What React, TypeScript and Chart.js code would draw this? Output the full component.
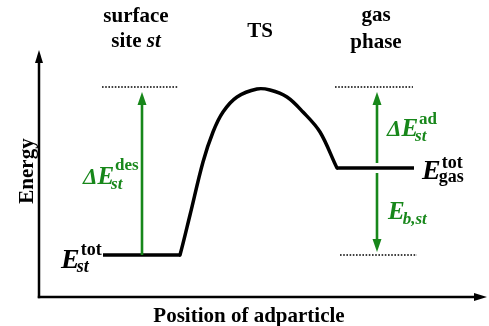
import React, { useEffect, useRef } from "react";
import { Chart, registerables } from "chart.js";

Chart.register(...registerables);

// Energy profile (reaction coordinate, energy in arbitrary units)
const curveX = [64, 140, 141, 151, 164, 174, 184, 198, 218, 231, 248, 264, 281, 298, 299, 375];
const curveY = [42, 42, 42, 82, 135, 165, 185, 200, 208, 207, 200, 185, 165, 129, 129, 129];

// reference levels (dotted)
const levelTopY = 210;
const levelBottomY = 42;
const dottedSegments = [
  { x0: 63, x1: 139, y: levelTopY },
  { x0: 296, x1: 374, y: levelTopY },
  { x0: 301, x1: 378, y: levelBottomY },
];

// energy arrows
const energyArrows = [
  { x: 103, from: 42, to: 205 },
  { x: 338, from: 134, to: 205 },
  { x: 338, from: 124, to: 45 },
];

const axisMaxX = 448;
const axisMaxY = 247;

const GREEN = "#17871a";
const SERIF = '"Liberation Serif", "DejaVu Serif", serif';

function drawArrow(ctx: CanvasRenderingContext2D, x0: number, y0: number, x1: number, y1: number, color: string, lw: number, headLen: number, headW: number) {
  const ang = Math.atan2(y1 - y0, x1 - x0);
  const bx = x1 - headLen * Math.cos(ang);
  const by = y1 - headLen * Math.sin(ang);
  ctx.save();
  ctx.strokeStyle = color;
  ctx.fillStyle = color;
  ctx.lineWidth = lw;
  ctx.beginPath();
  ctx.moveTo(x0, y0);
  ctx.lineTo(bx + Math.cos(ang) * 2, by + Math.sin(ang) * 2);
  ctx.stroke();
  ctx.beginPath();
  ctx.moveTo(x1, y1);
  ctx.lineTo(bx + (headW / 2) * Math.sin(ang), by - (headW / 2) * Math.cos(ang));
  ctx.lineTo(bx - (headW / 2) * Math.sin(ang), by + (headW / 2) * Math.cos(ang));
  ctx.closePath();
  ctx.fill();
  ctx.restore();
}

type Part = { t: string; f: string; dy?: number };

function drawMath(ctx: CanvasRenderingContext2D, x: number, y: number, base: Part[], sup: Part | null, sub: Part | null, supDx: number, subDx: number, color: string) {
  ctx.save();
  ctx.fillStyle = color;
  ctx.textBaseline = "alphabetic";
  ctx.textAlign = "left";
  let cx = x;
  for (const p of base) {
    ctx.font = p.f;
    ctx.fillText(p.t, cx, y + (p.dy || 0));
    cx += ctx.measureText(p.t).width;
  }
  if (sup) {
    ctx.font = sup.f;
    ctx.fillText(sup.t, cx + supDx, y + (sup.dy || 0));
  }
  if (sub) {
    ctx.font = sub.f;
    ctx.fillText(sub.t, cx + subDx, y + (sub.dy || 0));
  }
  ctx.restore();
}

const overlay = {
  id: "overlay",
  afterDatasetsDraw(chart: any) {
    const ctx: CanvasRenderingContext2D = chart.ctx;
    const xs = chart.scales.x;
    const ys = chart.scales.y;
    const px = (v: number) => xs.getPixelForValue(v);
    const py = (v: number) => ys.getPixelForValue(v);

    // axes
    drawArrow(ctx, px(0), py(0) + 1.2, px(0), py(axisMaxY), "#000", 2.5, 13, 8);
    drawArrow(ctx, px(0) - 1.2, py(0), px(axisMaxX), py(0), "#000", 2.5, 13, 8);

    // dotted levels
    ctx.save();
    ctx.strokeStyle = "#000";
    ctx.lineWidth = 1.6;
    ctx.setLineDash([1.6, 1.6]);
    for (const d of dottedSegments) {
      ctx.beginPath();
      ctx.moveTo(px(d.x0), py(d.y));
      ctx.lineTo(px(d.x1), py(d.y));
      ctx.stroke();
    }
    ctx.restore();

    // energy arrows
    for (const a of energyArrows) {
      drawArrow(ctx, px(a.x), py(a.from), px(a.x), py(a.to), GREEN, 2.6, 13, 9);
    }

    // titles
    ctx.save();
    ctx.fillStyle = "#000";
    ctx.textAlign = "center";
    ctx.textBaseline = "alphabetic";
    ctx.font = `bold 21px ${SERIF}`;
    ctx.fillText("surface", 136, 22);
    ctx.fillText("TS", 260, 37);
    ctx.fillText("gas", 376, 21);
    ctx.fillText("phase", 376, 48);
    ctx.fillText("Position of adparticle", 249, 322);
    const w1 = ctx.measureText("site ").width;
    ctx.font = `bold italic 21px ${SERIF}`;
    const w2 = ctx.measureText("st").width;
    const sx = 136 - (w1 + w2) / 2;
    ctx.textAlign = "left";
    ctx.font = `bold 21px ${SERIF}`;
    ctx.fillText("site ", sx, 47);
    ctx.font = `bold italic 21px ${SERIF}`;
    ctx.fillText("st", sx + w1, 47);
    ctx.translate(33, 171);
    ctx.rotate(-Math.PI / 2);
    ctx.textAlign = "center";
    ctx.font = `bold 21px ${SERIF}`;
    ctx.fillText("Energy", 0, 0);
    ctx.restore();

    // math labels
    const bi = (s: number) => `bold italic ${s}px ${SERIF}`;
    const b = (s: number) => `bold ${s}px ${SERIF}`;
    drawMath(ctx, 61, 268, [{ t: "E", f: bi(28) }], { t: "tot", f: b(18), dy: -13 }, { t: "st", f: bi(18), dy: 4 }, 1, -3, "#000");
    drawMath(ctx, 422, 179, [{ t: "E", f: bi(28) }], { t: "tot", f: b(18), dy: -11 }, { t: "gas", f: b(18), dy: 3 }, 1, -2, "#000");
    drawMath(ctx, 83, 184, [{ t: "\u0394", f: bi(23) }, { t: "E", f: bi(25) }], { t: "des", f: b(17), dy: -14 }, { t: "st", f: bi(17), dy: 5 }, 1, -3, GREEN);
    drawMath(ctx, 387, 136, [{ t: "\u0394", f: bi(23) }, { t: "E", f: bi(25) }], { t: "ad", f: b(17), dy: -12 }, { t: "st", f: bi(17), dy: 5 }, 1, -3, GREEN);
    drawMath(ctx, 388, 219, [{ t: "E", f: bi(25) }], null, { t: "b,st", f: bi(17), dy: 5 }, 0, -2, GREEN);
  },
};

export default function App() {
  const ref = useRef<HTMLCanvasElement>(null);
  useEffect(() => {
    document.body.style.margin = "0";
    if (!ref.current) return;
    const chart = new Chart(ref.current, {
      type: "line",
      data: {
        datasets: [
          {
            data: curveX.map((x, i) => ({ x, y: curveY[i] })),
            borderColor: "#000",
            borderWidth: 3.5,
            borderJoinStyle: "round",
            pointRadius: 0,
            tension: 0.35,
            fill: false,
            clip: false as any,
          },
        ],
      },
      options: {
        animation: false,
        responsive: false,
        layout: { padding: { left: 39, right: 2, top: 50, bottom: 29 } },
        plugins: { legend: { display: false }, tooltip: { enabled: false } },
        scales: {
          x: { type: "linear", min: 0, max: axisMaxX, display: false },
          y: { type: "linear", min: 0, max: axisMaxY, display: false },
        },
      },
      plugins: [overlay],
    });
    return () => chart.destroy();
  }, []);
  return (
    <div style={{ width: 489, height: 326, background: "#fff" }}>
      <canvas ref={ref} width={489} height={326} />
    </div>
  );
}
